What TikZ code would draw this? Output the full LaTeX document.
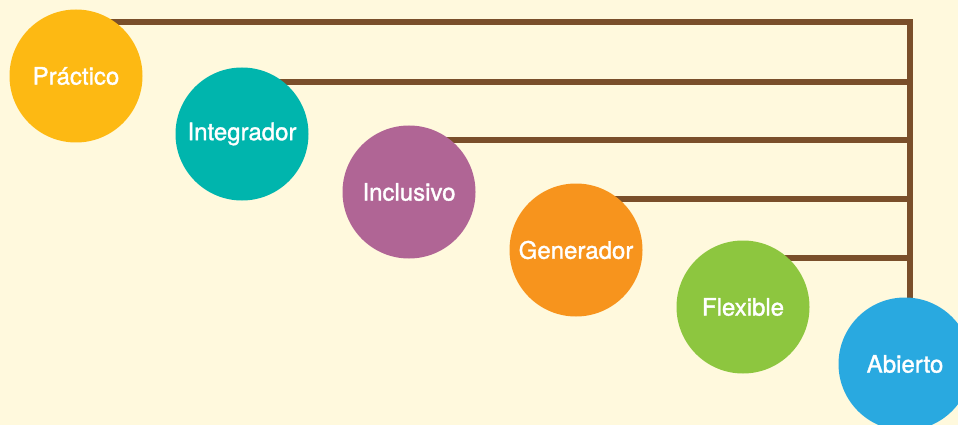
\documentclass[tikz,border=0pt]{standalone}
\usepackage{fontspec}
\setmainfont{TeX Gyre Heros}
\newfontfamily\medfont[FakeBold=1.3]{TeX Gyre Heros}
\pgfdeclarelayer{bg}
\pgfdeclarelayer{lines}
\pgfsetlayers{bg,lines,main}
\definecolor{bgcol}{HTML}{FFF9DD}
\definecolor{brn}{HTML}{7A4F2A}
\definecolor{cP}{HTML}{FDB913}
\definecolor{cI}{HTML}{00B5AD}
\definecolor{cN}{HTML}{B06595}
\definecolor{cG}{HTML}{F7941D}
\definecolor{cF}{HTML}{8DC63F}
\definecolor{cA}{HTML}{29A9E0}
\begin{document}
\begin{tikzpicture}[x=1pt,y=-1pt,
  ball/.style={circle,minimum size=133pt,inner sep=0pt,text=white,
    font=\medfont\fontsize{24}{28}\selectfont},
  conn/.style={draw=brn,line width=6pt}]
\begin{pgfonlayer}{bg}
\fill[bgcol] (0,0) rectangle (958,425);
\end{pgfonlayer}
\useasboundingbox (0,0) rectangle (958,425);
\clip (0,0) rectangle (958,425);
\node[ball,fill=cP] (P) at (76,76) {Práctico};
\node[ball,fill=cI] (I) at (242,134) {Integrador};
\node[ball,fill=cN] (N) at (409,192) {Inclusivo};
\node[ball,fill=cG] (G) at (576,250) {Generador};
\node[ball,fill=cF] (F) at (743,307) {Flexible};
\node[ball,fill=cA] (A) at (905,364) {Abierto};
\coordinate (c1) at (910,22);
\coordinate (c2) at (910,82);
\coordinate (c3) at (910,140);
\coordinate (c4) at (910,199);
\coordinate (c5) at (910,258);
\begin{pgfonlayer}{lines}
\draw[conn,line join=miter] (P |- c1) -- (c1) -- (c1 |- A.center);
\draw[conn] (I |- c2) -- (c2);
\draw[conn] (N |- c3) -- (c3);
\draw[conn] (G |- c4) -- (c4);
\draw[conn] (F |- c5) -- (c5);
\end{pgfonlayer}
\end{tikzpicture}
\end{document}
